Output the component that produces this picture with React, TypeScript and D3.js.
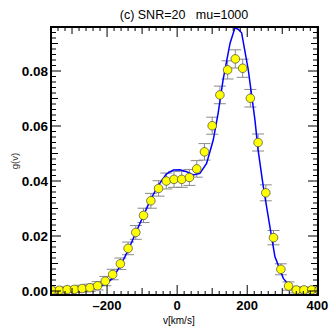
import { scaleLinear, line, range, curveLinear } from 'd3';

// measured points (km/s, g(v)) and their errors
const velocity = [-358, -336, -314, -293, -271, -249, -227, -205, -184, -162, -140, -118, -96, -75, -53, -31, -9, 13, 35, 56, 78, 100, 122, 144, 166, 187, 209, 231, 253, 275, 296, 318, 340, 362, 384, 405];
const gValue = [0.0003, 0.0003, 0.0005, 0.0006, 0.0009, 0.0012, 0.0019, 0.0036, 0.006, 0.0099, 0.0155, 0.0213, 0.0275, 0.0328, 0.0373, 0.04, 0.0406, 0.0406, 0.0413, 0.0444, 0.0506, 0.0601, 0.0713, 0.0804, 0.0844, 0.081, 0.0701, 0.054, 0.0357, 0.0194, 0.0079, 0.0018, 0.0004, 0.0004, 0.0004, 0.0004];
const gError = [0.001, 0.001, 0.001, 0.0011, 0.0012, 0.0013, 0.0015, 0.0017, 0.0019, 0.0021, 0.0023, 0.0025, 0.0026, 0.0027, 0.0028, 0.0029, 0.0029, 0.0029, 0.0029, 0.003, 0.003, 0.0031, 0.0032, 0.0033, 0.0033, 0.0033, 0.0032, 0.0031, 0.0029, 0.0026, 0.002, 0.0015, 0.0011, 0.001, 0.001, 0.001];

// model curve
const modelV = [-360, -300, -260, -230, -205, -185, -162, -140, -118, -96, -75, -53, -31, -11, 8, 27, 46, 65, 84, 103, 117, 131, 151, 165, 174, 184, 203, 222, 231, 246, 263, 279, 303, 327, 341, 402];
const modelG = [0.0001, 0.0002, 0.0005, 0.0011, 0.0025, 0.0045, 0.0092, 0.0148, 0.0212, 0.0275, 0.0335, 0.0385, 0.0425, 0.044, 0.0441, 0.0434, 0.0422, 0.0428, 0.0464, 0.0549, 0.0647, 0.0767, 0.0901, 0.0957, 0.0952, 0.0939, 0.0804, 0.0622, 0.0513, 0.0379, 0.0247, 0.0125, 0.0046, 0.001, 0.0004, 0.0002];

const xLabels = [-200, 0, 200, 400];
const yLabels = [0, 0.02, 0.04, 0.06, 0.08];

const W = 332;
const H = 332;
const left = 51, right = 318, top = 27, bottom = 295;

export default function App() {
  const x = scaleLinear().domain([-360, 402]).range([left, right]);
  const y = scaleLinear().domain([-0.00145, 0.096]).range([bottom, top]);

  const path = line<number>()
    .x((_, i) => x(modelV[i]))
    .y((d) => y(d))
    .curve(curveLinear)(modelG);

  // ticks every 20 km/s, longer at 100 and 200
  const xTicks = range(-360, 401, 20);
  const xLen = (v: number) => (v % 200 === 0 ? 10 : v % 100 === 0 ? 7 : 4);
  // ticks every 0.002, longer at 0.01 and 0.02
  const yTicks = range(0, 48).map((k) => k * 0.002);
  const yLen = (k: number) => (k % 10 === 0 ? 10 : k % 5 === 0 ? 7 : 5);

  const font = 'Liberation Sans, Arial, sans-serif';

  return (
    <svg width={W} height={H} style={{ position: 'absolute', left: 0, top: 0, background: '#fff' }}>
      <defs>
        <clipPath id="plot">
          <rect x={left} y={top} width={right - left} height={bottom - top} />
        </clipPath>
      </defs>
      <rect width={W} height={H} fill="#fff" />

      <g clipPath="url(#plot)">
        {velocity.map((v, i) => {
          const cx = x(v);
          const y1 = y(gValue[i] + gError[i]);
          const y2 = y(gValue[i] - gError[i]);
          return (
            <g key={'e' + i} stroke="#8a8a8a" strokeWidth={1}>
              <line x1={cx} x2={cx} y1={y1} y2={y2} />
              <line x1={cx - 6} x2={cx + 6} y1={y1} y2={y1} />
              <line x1={cx - 6} x2={cx + 6} y1={y2} y2={y2} />
            </g>
          );
        })}
        <path d={path ?? ''} fill="none" stroke="#0000ff" strokeWidth={1.5} />
        {velocity.map((v, i) => (
          <circle key={'c' + i} cx={x(v)} cy={y(gValue[i])} r={4.3} fill="#ffff00" stroke="#444" strokeWidth={0.7} />
        ))}
      </g>

      <g stroke="#000" strokeWidth={1}>
        {xTicks.map((v) => (
          <g key={'xt' + v}>
            <line x1={x(v)} x2={x(v)} y1={bottom} y2={bottom - xLen(v)} />
            <line x1={x(v)} x2={x(v)} y1={top} y2={top + xLen(v)} />
          </g>
        ))}
        {yTicks.map((g, k) => (
          <g key={'yt' + k}>
            <line x1={left} x2={left + yLen(k)} y1={y(g)} y2={y(g)} />
            <line x1={right} x2={right - yLen(k)} y1={y(g)} y2={y(g)} />
          </g>
        ))}
      </g>
      <rect x={left} y={top} width={right - left} height={bottom - top} fill="none" stroke="#000" strokeWidth={2} />

      {xLabels.map((v) => (
        <text key={'xl' + v} x={x(v)} y={310} textAnchor="middle" fontFamily={font} fontWeight="bold" fontSize={13}>
          {v < 0 ? '\u2013' + Math.abs(v) : v}
        </text>
      ))}
      {yLabels.map((g) => (
        <text key={'yl' + g} x={48} y={y(g) + 5} textAnchor="end" fontFamily={font} fontWeight="bold" fontSize={13.5}>
          {g.toFixed(2)}
        </text>
      ))}

      <text x={184} y={19} textAnchor="middle" fontFamily={font} fontSize={12.5}>
        (c) SNR=20{'\u00a0\u00a0\u00a0'}mu=1000
      </text>
      <text x={163} y={324} fontFamily={font} fontSize={10}>v[km/s]</text>
      <text transform="translate(18,161) rotate(-90)" textAnchor="middle" fontFamily={font} fontSize={9.5} fill="#333">g(v)</text>
    </svg>
  );
}
